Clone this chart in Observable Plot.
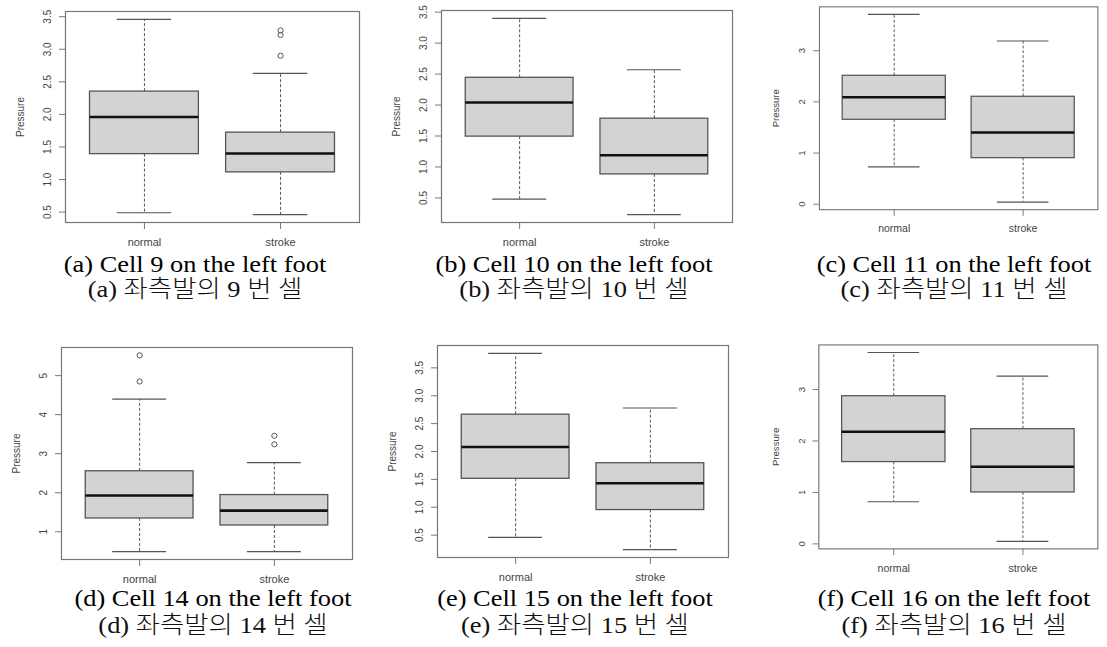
<!DOCTYPE html>
<html>
<head>
<meta charset="utf-8">
<script src="https://cdn.jsdelivr.net/npm/d3@7"></script>
<script src="https://cdn.jsdelivr.net/npm/@observablehq/plot@0.6"></script>
<style>
  html, body { margin: 0; padding: 0; background: #fff; }
  body { width: 1107px; height: 647px; overflow: hidden; position: relative; }
  .panel { position: absolute; }
  .cap {
    position: absolute; white-space: nowrap;
    font-family: "Liberation Serif", "Times New Roman", "Noto Sans CJK KR", serif;
    font-size: 24px; line-height: 24px; height: 24px; color: #000;
    transform: translateX(-50%) scaleX(1.1); transform-origin: center;
  }
  .cap.ko { font-weight: 300; color: #111; }
</style>
</head>
<body>
<script>
// ---- data ----
const categories = ["normal", "stroke"];
const panelLetters = ["a", "b", "c", "d", "e", "f"];
const cellNumbers = [9, 10, 11, 14, 15, 16];
const captionEn = cellNumbers.map((c, i) => `(${panelLetters[i]}) Cell ${c} on the left foot`);
const captionKo = cellNumbers.map((c, i) => `(${panelLetters[i]}) 좌측발의 ${c} 번 셀`);
const yLabel = "Pressure";

// per panel: [normal, stroke]
const whiskerLow  = [[0.49, 0.46], [0.48, 0.23], [0.73, 0.04], [0.49, 0.49], [0.46, 0.24], [0.82, 0.05]];
const quart1      = [[1.39, 1.11], [1.49, 0.88], [1.65, 0.90], [1.34, 1.16], [1.51, 0.95], [1.59, 1.00]];
const medians     = [[1.96, 1.40], [2.04, 1.19], [2.09, 1.40], [1.93, 1.54], [2.08, 1.43], [2.18, 1.50]];
const quart3      = [[2.35, 1.72], [2.44, 1.78], [2.51, 2.10], [2.55, 1.94], [2.66, 1.79], [2.87, 2.23]];
const whiskerHigh = [[3.46, 2.63], [3.40, 2.57], [3.71, 3.19], [4.40, 2.77], [3.76, 2.78], [3.72, 3.26]];
const outliers    = [[[], [3.29, 3.22, 2.90]], [[], []], [[], []], [[5.52, 4.85], [3.46, 3.24]], [[], []], [[], []]];

const yTicks = [
  [0.5, 1.0, 1.5, 2.0, 2.5, 3.0, 3.5],
  [0.5, 1.0, 1.5, 2.0, 2.5, 3.0, 3.5],
  [0, 1, 2, 3],
  [1, 2, 3, 4, 5],
  [0.5, 1.0, 1.5, 2.0, 2.5, 3.0, 3.5],
  [0, 1, 2, 3]
];
const yTickDigits = [1, 1, 0, 0, 1, 0];

// ---- layout (page coordinates of each plot frame, caption centre / baselines) ----
const frames = [
  {x1: 65,  x2: 359,  y1: 11,  y2: 222, cx: 195, b1: 272, b2: 297},
  {x1: 441, x2: 732,  y1: 10,  y2: 222, cx: 574, b1: 272, b2: 297},
  {x1: 822, x2: 1113, y1: 7,   y2: 219, cx: 954, b1: 272, b2: 297},
  {x1: 61,  x2: 352,  y1: 347, y2: 559, cx: 213, b1: 606, b2: 633},
  {x1: 437, x2: 728,  y1: 345, y2: 557, cx: 575, b1: 606, b2: 633},
  {x1: 821, x2: 1111, y1: 345, y2: 557, cx: 954, b1: 606, b2: 633}
];
const ML = 70, MR = 10, MT = 15, MB = 30;
const axisCol = "#444", boxCol = "#555";

frames.forEach((f, p) => {
  const rows = categories.map((c, i) => ({
    x: i + 1, lo: whiskerLow[p][i], q1: quart1[p][i], med: medians[p][i],
    q3: quart3[p][i], hi: whiskerHigh[p][i]
  }));
  const pts = categories.flatMap((c, i) => outliers[p][i].map(v => ({x: i + 1, y: v})));
  const all = rows.flatMap(r => [r.lo, r.hi]).concat(pts.map(d => d.y));
  const lo = d3.min(all), hi = d3.max(all), ext = (hi - lo) * 0.04;
  const xext = categories.length * 0.04;

  const chart = Plot.plot({
    width: f.x2 - f.x1 + ML + MR,
    height: f.y2 - f.y1 + MT + MB,
    marginLeft: ML, marginRight: MR, marginTop: MT, marginBottom: MB,
    style: {fontFamily: "'Liberation Sans', Arial, sans-serif", overflow: "visible", background: "transparent"},
    x: {type: "linear", domain: [0.5 - xext, categories.length + 0.5 + xext]},
    y: {domain: [lo - ext, hi + ext]},
    marks: [
      // whiskers (dashed)
      Plot.ruleX(rows, {x: "x", y1: "q3", y2: "hi", stroke: boxCol, strokeDasharray: "3,2"}),
      Plot.ruleX(rows, {x: "x", y1: "q1", y2: "lo", stroke: boxCol, strokeDasharray: "3,2"}),
      // caps
      Plot.ruleY(rows, {y: "hi", x1: d => d.x - 0.2, x2: d => d.x + 0.2, stroke: boxCol, strokeWidth: 1.2}),
      Plot.ruleY(rows, {y: "lo", x1: d => d.x - 0.2, x2: d => d.x + 0.2, stroke: boxCol, strokeWidth: 1.2}),
      // boxes
      Plot.rect(rows, {x1: d => d.x - 0.4, x2: d => d.x + 0.4, y1: "q1", y2: "q3", fill: "#d3d3d3", stroke: boxCol, strokeWidth: 1.3}),
      // medians
      Plot.ruleY(rows, {y: "med", x1: d => d.x - 0.4, x2: d => d.x + 0.4, stroke: "#111", strokeWidth: 2.6}),
      // outliers
      Plot.dot(pts, {x: "x", y: "y", r: 2.6, stroke: boxCol, strokeWidth: 1, fill: "none"}),
      // frame
      Plot.frame({stroke: "#777", strokeWidth: 1.2}),
      // axes
      Plot.axisY(yTicks[p], {tickSize: 6, tickFormat: () => "", stroke: "#777", label: null}),
      Plot.text(yTicks[p], {y: d => d, text: d => d.toFixed(yTickDigits[p]), frameAnchor: "left", dx: -18,
        rotate: -90, textAnchor: "middle", lineAnchor: "middle", fontSize: 10, fill: axisCol}),
      Plot.axisX([1, 2], {tickSize: 7, tickPadding: 9, tickFormat: d => categories[d - 1], stroke: "#777",
        fill: axisCol, fontSize: 11, label: null}),
      Plot.text([yLabel], {text: d => d, frameAnchor: "left", dx: -45, rotate: -90, textAnchor: "middle",
        lineAnchor: "middle", fontSize: 10, fill: axisCol})
    ]
  });
  const div = document.createElement("div");
  div.className = "panel";
  div.style.left = (f.x1 - ML) + "px";
  div.style.top = (f.y1 - MT) + "px";
  div.appendChild(chart);
  document.body.appendChild(div);

  [[captionEn[p], f.b1, ""], [captionKo[p], f.b2, " ko"]].forEach(([t, b, cls]) => {
    const c = document.createElement("div");
    c.className = "cap" + cls;
    c.textContent = t;
    c.style.left = f.cx + "px";
    c.style.top = (b - 20) + "px";
    document.body.appendChild(c);
  });
});
</script>
</body>
</html>
